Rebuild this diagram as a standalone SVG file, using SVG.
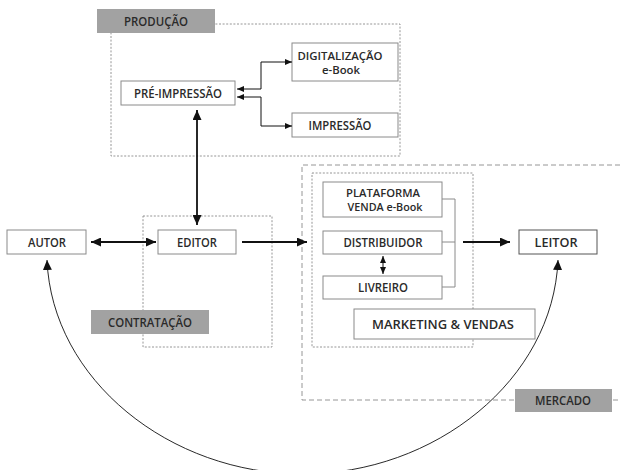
<svg xmlns="http://www.w3.org/2000/svg" width="620" height="470" viewBox="0 0 620 470">
<style>
text{font-family:"Open Sans","Noto Sans","Liberation Sans",sans-serif;font-size:12.5px;font-weight:600;fill:#2a2a2a;text-anchor:middle;dominant-baseline:central}
.two{font-size:10.5px}
.box{fill:#fff;stroke:#8a8a8a;stroke-width:1}
.lab{fill:#a2a2a2;stroke:none}
.dash{fill:none;stroke:#8a8a8a;stroke-width:0.9;stroke-dasharray:2,1.6}
.dash2{fill:none;stroke:#8a8a8a;stroke-width:0.9;stroke-dasharray:5,3}
.thick{fill:none;stroke:#111;stroke-width:1.8}
.thin{fill:none;stroke:#111;stroke-width:1}
.gray{fill:none;stroke:#8a8a8a;stroke-width:1}
</style>
<defs>
<marker id="ah" markerUnits="userSpaceOnUse" markerWidth="10" markerHeight="9" viewBox="0 0 10 9" refX="10" refY="4.5" orient="auto-start-reverse"><path d="M0,0L10,4.5L0,9z" fill="#111"/></marker>
<marker id="as" markerUnits="userSpaceOnUse" markerWidth="7" markerHeight="6" viewBox="0 0 7 6" refX="7" refY="3" orient="auto-start-reverse"><path d="M0,0L7,3L0,6z" fill="#111"/></marker>
</defs>

<g id="regions">
<rect class="dash" x="111" y="24" width="289" height="132"/>
<rect class="dash" x="143" y="216" width="129" height="131"/>
<path class="dash2" d="M620,165 H302 V400 H620"/>
<rect class="dash" x="312" y="173" width="161" height="174"/>
</g>

<g id="producao"><rect class="lab" x="97" y="9" width="118" height="24"/><text x="156" y="21" textLength="64" lengthAdjust="spacingAndGlyphs">PRODUÇÃO</text></g>
<g id="contratacao"><rect class="lab" x="91" y="310" width="118" height="24"/><text x="150" y="322" textLength="84" lengthAdjust="spacingAndGlyphs">CONTRATAÇÃO</text></g>
<g id="mercado"><rect class="lab" x="515" y="389" width="97" height="23"/><text x="563" y="400.5" textLength="56" lengthAdjust="spacingAndGlyphs">MERCADO</text></g>

<g id="pre"><rect class="box" x="121" y="81" width="114" height="24"/><text x="178" y="93" textLength="88" lengthAdjust="spacingAndGlyphs">PRÉ-IMPRESSÃO</text></g>
<g id="digital"><rect class="box" x="292" y="43" width="106" height="38"/><text class="two" x="340" y="55.5" textLength="85" lengthAdjust="spacingAndGlyphs">DIGITALIZAÇÃO</text><text class="two" x="341" y="69.5" textLength="38" lengthAdjust="spacingAndGlyphs">e-Book</text></g>
<g id="impressao"><rect class="box" x="292" y="113" width="106" height="24"/><text x="340" y="125" textLength="63" lengthAdjust="spacingAndGlyphs">IMPRESSÃO</text></g>
<g id="autor"><rect class="box" x="7" y="230" width="79" height="24"/><text x="47" y="242" textLength="38" lengthAdjust="spacingAndGlyphs">AUTOR</text></g>
<g id="editor"><rect class="box" x="158" y="230" width="78" height="24"/><text x="197" y="242" textLength="40" lengthAdjust="spacingAndGlyphs">EDITOR</text></g>
<g id="plataforma"><rect class="box" x="323" y="182" width="119" height="35"/><text class="two" x="383" y="193" textLength="74" lengthAdjust="spacingAndGlyphs">PLATAFORMA</text><text class="two" x="385" y="207" font-size="10" textLength="75" lengthAdjust="spacingAndGlyphs">VENDA e-Book</text></g>
<g id="distribuidor"><rect class="box" x="323" y="231" width="119" height="23"/><text x="383" y="242.5" textLength="79" lengthAdjust="spacingAndGlyphs">DISTRIBUIDOR</text></g>
<g id="livreiro"><rect class="box" x="323" y="276" width="119" height="23"/><text x="383" y="287.5" textLength="50" lengthAdjust="spacingAndGlyphs">LIVREIRO</text></g>
<g id="marketing"><rect class="box" x="354" y="309" width="181" height="30"/><text x="443" y="324" font-size="14.5" textLength="142" lengthAdjust="spacingAndGlyphs">MARKETING &amp; VENDAS</text></g>
<g id="leitor"><rect class="box" x="519" y="230" width="78" height="24" style="stroke:#555"/><text x="556" y="242" textLength="43" lengthAdjust="spacingAndGlyphs">LEITOR</text></g>

<g id="connectors">
<path class="thin" d="M237,89 H261 V62 H292" marker-start="url(#as)" marker-end="url(#as)"/>
<path class="thin" d="M237,97 H261 V126 H292" marker-start="url(#as)" marker-end="url(#as)"/>
<path class="thick" d="M197,110 V225" marker-start="url(#ah)" marker-end="url(#ah)"/>
<path class="thick" d="M91,242 H156" marker-start="url(#ah)" marker-end="url(#ah)"/>
<path class="thick" d="M242,242 H307" marker-end="url(#ah)"/>
<path class="gray" d="M442,199 H455 V287 H442 M442,242 H455"/>
<path class="thick" d="M463,242 H510" marker-end="url(#ah)"/>
<path class="thin" d="M383,256 V274" marker-start="url(#as)" marker-end="url(#as)"/>
<path class="thin" d="M558,260 C553,380 435,474 302.5,474 C170,474 52,380 47,260" marker-start="url(#ah)" marker-end="url(#ah)" style="stroke-width:0.9"/>
</g>
</svg>
